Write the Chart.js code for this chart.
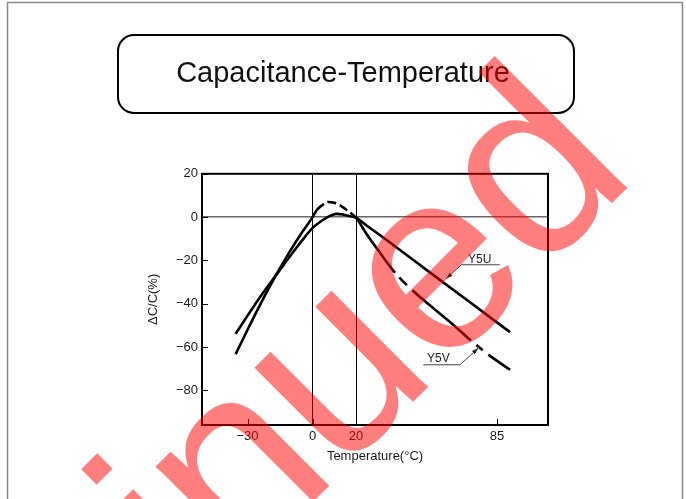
<!DOCTYPE html>
<html>
<head>
<meta charset="utf-8">
<script src="https://cdn.jsdelivr.net/npm/chart.js@4.4.0/dist/chart.umd.min.js"></script>
<style>
  html, body { margin: 0; padding: 0; background: #fff; }
</style>
</head>
<body>
<canvas id="grafico" width="686" height="499"></canvas>
<script>
// valores
const tempY5U = [-35.5, -30, -25, -20, -17, -10, -5, 0, 4, 8, 11, 14, 17, 20, 25, 30, 50, 71, 91];
const capY5U = [-53.9, -45.5, -38, -31, -27, -17.5, -11, -5, -1.8, 0.6, 1.5, 1.2, 0.5, -0.3, -4, -7.6, -22.5, -38.2, -53.1];

const tempY5V = [-35.5, -30, -25, -20, -15, -10, -5, 0, 2, 5, 7, 10, 13, 16, 20, 25, 30, 38, 46, 55, 64, 73, 81, 91];
const capY5V = [-63.3, -52, -42, -32.5, -23.5, -15, -7.2, 0, 3.4, 5.9, 7, 6.6, 5.2, 3, -0.3, -8, -15, -25.7, -33.8, -41.5, -49, -57, -63.5, -70.5];

const ticksX = [-30, 0, 20, 85];
const ticksY = [-80, -60, -40, -20, 0, 20];

const fonte = "'Liberation Sans', Arial, sans-serif";
Chart.defaults.font.family = fonte;
Chart.defaults.color = "#1a1a1a";

function pontos(xs, ys) {
  return xs.map((x, i) => ({ x: x, y: ys[i] }));
}

function menos(v) {
  return v < 0 ? "\u2212" + Math.abs(v) : String(v);
}

// tracejado da curva Y5V
function tracoY5V(ctx) {
  const a = ctx.p0.parsed.x;
  const b = ctx.p1.parsed.x;
  if (a >= 2 && b <= 20) return [9, 4];
  if (a === 38 && b === 46) return [0, 6, 11, 40];
  if (a === 73 && b === 81) return [0, 7, 8, 40];
  return [];
}

const moldura = {
  id: "moldura",
  beforeDraw(chart) {
    const c = chart.ctx;
    c.save();
    c.fillStyle = "#fff";
    c.fillRect(0, 0, chart.width, chart.height);
    c.strokeStyle = "#888";
    c.lineWidth = 1.5;
    c.strokeRect(7.5, 2.5, 675, 520);
    // caixa do titulo
    c.strokeStyle = "#000";
    c.lineWidth = 2;
    c.beginPath();
    c.roundRect(118, 35, 456, 78, 16);
    c.stroke();
    c.restore();
  },
  beforeDatasetsDraw(chart) {
    const c = chart.ctx;
    const a = chart.chartArea;
    const sx = chart.scales.x;
    const sy = chart.scales.y;
    c.save();
    c.strokeStyle = "#000";
    c.lineWidth = 1;
    c.beginPath();
    ticksY.forEach(v => {
      const y = Math.round(sy.getPixelForValue(v)) + 0.5;
      c.moveTo(a.left, y);
      c.lineTo(a.left + 6, y);
    });
    ticksX.forEach(v => {
      const x = Math.round(sx.getPixelForValue(v)) + 0.5;
      c.moveTo(x, a.bottom);
      c.lineTo(x, a.bottom - 6);
    });
    c.stroke();
    c.lineWidth = 2;
    c.strokeRect(a.left, a.top, a.right - a.left, a.bottom - a.top);
    c.restore();
  },
  afterDatasetsDraw(chart) {
    const c = chart.ctx;
    const sx = chart.scales.x;
    const sy = chart.scales.y;
    const px = v => sx.getPixelForValue(v);
    const py = v => sy.getPixelForValue(v);
    c.save();
    c.font = "12px " + fonte;
    c.fillStyle = "#222";
    c.textBaseline = "alphabetic";
    c.fillText("Y5U", px(71.6), py(-21.1));
    c.fillText("Y5V", px(52.7), py(-66.8));
    c.strokeStyle = "#444";
    c.lineWidth = 1;
    seta(c, [px(86.3), py(-22)], [px(68.6), py(-22)], [px(61.5), py(-28.5)]);
    seta(c, [px(51), py(-68.2)], [px(67.9), py(-68.2)], [px(76.4), py(-60.5)]);
    c.restore();
  },
  afterDraw(chart) {
    // carimbo vermelho por cima de tudo
    const c = chart.ctx;
    c.save();
    c.fillStyle = "rgba(255, 0, 0, 0.5)";
    c.font = "258px " + fonte;
    c.letterSpacing = "-3px";
    c.translate(637, 178);
    c.rotate(-Math.PI / 4);
    c.textAlign = "right";
    c.fillText("Discontinued", 0, 0);
    c.restore();
  }
};

function seta(c, p1, p2, p3) {
  c.beginPath();
  c.moveTo(p1[0], p1[1]);
  c.lineTo(p2[0], p2[1]);
  c.lineTo(p3[0], p3[1]);
  c.stroke();
  const ang = Math.atan2(p3[1] - p2[1], p3[0] - p2[0]);
  c.beginPath();
  c.moveTo(p3[0], p3[1]);
  c.lineTo(p3[0] - 7 * Math.cos(ang - 0.3), p3[1] - 7 * Math.sin(ang - 0.3));
  c.lineTo(p3[0] - 7 * Math.cos(ang + 0.3), p3[1] - 7 * Math.sin(ang + 0.3));
  c.closePath();
  c.fillStyle = "#222";
  c.fill();
}

new Chart(document.getElementById("grafico"), {
  type: "scatter",
  data: {
    datasets: [
      {
        label: "Y5U",
        data: pontos(tempY5U, capY5U),
        showLine: true,
        borderColor: "#000",
        borderWidth: 2.6,
        pointRadius: 0,
        cubicInterpolationMode: "monotone",
      },
      {
        label: "Y5V",
        data: pontos(tempY5V, capY5V),
        showLine: true,
        borderColor: "#000",
        borderWidth: 2.6,
        pointRadius: 0,
        cubicInterpolationMode: "monotone",
        segment: { borderDash: tracoY5V },
      },
    ],
  },
  options: {
    responsive: false,
    animation: false,
    layout: { padding: { left: 138, right: 138, top: 0, bottom: 30 } },
    plugins: {
      legend: { display: false },
      tooltip: { enabled: false },
      title: {
        display: true,
        text: "Capacitance-Temperature",
        color: "#111",
        font: { size: 29, weight: "normal" },
        padding: { top: 57, bottom: 82 },
      },
    },
    scales: {
      x: {
        type: "linear",
        min: -51,
        max: 108.5,
        afterBuildTicks: s => { s.ticks = ticksX.map(v => ({ value: v })); },
        afterFit: s => { s.height = 44; },
        ticks: { callback: v => menos(v), font: { size: 13 }, padding: 4, maxRotation: 0 },
        grid: {
          drawTicks: false,
          lineWidth: 1,
          color: ctx => (ctx.tick && (ctx.tick.value === 0 || ctx.tick.value === 20)) ? "#000" : "rgba(0,0,0,0)",
        },
        border: { display: false },
        title: { display: true, text: "Temperature(°C)", font: { size: 13 }, padding: { top: 0, bottom: 5 } },
      },
      y: {
        min: -96,
        max: 20,
        afterBuildTicks: s => { s.ticks = ticksY.map(v => ({ value: v })); },
        afterFit: s => { s.width = 64; },
        ticks: { callback: v => menos(v), font: { size: 13 }, padding: 4 },
        grid: {
          drawTicks: false,
          lineWidth: 1.5,
          color: ctx => (ctx.tick && ctx.tick.value === 0) ? "#666" : "rgba(0,0,0,0)",
        },
        border: { display: false },
        title: { display: true, text: "ΔC/C(%)", font: { size: 13 }, padding: { top: 8, bottom: 0 } },
      },
    },
  },
  plugins: [moldura],
});
</script>
</body>
</html>
